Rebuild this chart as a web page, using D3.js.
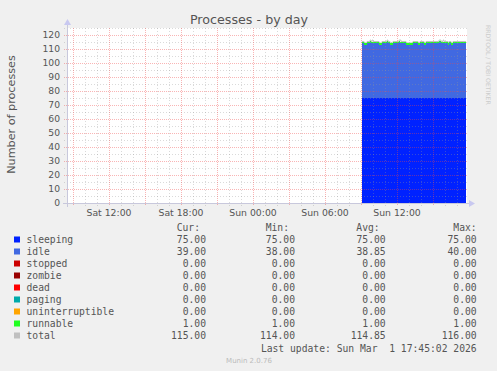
<!DOCTYPE html>
<html>
<head>
<meta charset="utf-8">
<script src="https://cdn.jsdelivr.net/npm/d3@7"></script>
<style>
body { margin: 0; background: #f0f0f0; }
svg { display: block; }
</style>
</head>
<body>
<script>
// window shown by the graph and the first 5 minute sample
var startTime = new Date(2026, 1, 28, 8, 30)
var endTime = new Date(2026, 2, 1, 17, 50)
var firstSample = new Date(2026, 2, 1, 9, 10)
var stepSec = 300

var sleeping = [
    75,75,75,75,75,75,75,75,75,75, 75,75,75,75,75,75,75,75,75,75,
    75,75,75,75,75,75,75,75,75,75, 75,75,75,75,75,75,75,75,75,75,
    75,75,75,75,75,75,75,75,75,75, 75,75,75,75,75,75,75,75,75,75,
    75,75,75,75,75,75,75,75,75,75, 75,75,75,75,75,75,75,75,75,75,
    75,75,75,75,75,75,75,75,75,75, 75,75,75,75,75,75,75,75,75,75,
    75,75,75,75]
var idle = [
    39,39,38,38,38,39,39,39,40,39, 39,39,39,39,39,39,39,38,38,38,
    39,39,39,39,39,40,39,39,38,38, 38,39,39,39,39,39,39,40,39,39,
    39,39,39,39,38,38,38,38,38,38, 38,39,39,39,39,39,38,38,39,39,
    39,39,38,38,39,39,39,39,39,39, 39,39,39,39,39,39,39,40,40,39,
    39,39,39,39,39,39,38,39,39,38, 38,39,39,39,39,39,39,39,39,39,
    39,39,39,39]
var runnable = [
    1,1,1,1,1,1,1,1,1,1, 1,1,1,1,1,1,1,1,1,1,
    1,1,1,1,1,1,1,1,1,1, 1,1,1,1,1,1,1,1,1,1,
    1,1,1,1,1,1,1,1,1,1, 1,1,1,1,1,1,1,1,1,1,
    1,1,1,1,1,1,1,1,1,1, 1,1,1,1,1,1,1,1,1,1,
    1,1,1,1,1,1,1,1,1,1, 1,1,1,1,1,1,1,1,1,1,
    1,1,1,1]
var total = [
    115,115,114,114,114,115,115,115,116,115, 116,115,115,115,115,115,115,114,114,114,
    115,115,115,115,115,116,115,115,114,114, 114,115,115,115,115,115,115,116,116,115,
    115,115,115,115,114,114,114,114,114,114, 114,115,115,115,115,115,114,114,115,115,
    115,115,114,114,115,115,115,115,115,115, 115,115,115,115,115,115,115,116,116,115,
    115,116,115,115,115,115,114,115,115,114, 114,115,115,115,115,115,115,115,115,115,
    115,115,115,115]

var yTicks = [0, 10, 20, 30, 40, 50, 60, 70, 80, 90, 100, 110, 120]

// legend table
var seriesNames = ["sleeping", "idle", "stopped", "zombie", "dead", "paging", "uninterruptible", "runnable", "total"]
var seriesColors = ["#0022ff", "#4169e1", "#cc0000", "#990000", "#ff0000", "#00aaaa", "#ffa500", "#22ff22", "#c0c0c0"]
var curVals = [75, 39, 0, 0, 0, 0, 0, 1, 115]
var minVals = [75, 38, 0, 0, 0, 0, 0, 1, 114]
var avgVals = [75, 38.85, 0, 0, 0, 0, 0, 1, 114.85]
var maxVals = [75, 40, 0, 0, 0, 0, 0, 1, 116]

var W = 497, H = 371
var plot = { left: 67, right: 467, top: 28, bottom: 203 }

var d = d3.select('body').append('svg')
    .attr('width', W)
    .attr('height', H)

d.append('rect').attr('width', W).attr('height', H).attr('fill', '#f0f0f0')
d.append('rect')
    .attr('x', plot.left).attr('y', plot.top)
    .attr('width', plot.right - plot.left).attr('height', plot.bottom - plot.top)
    .attr('fill', '#ffffff')

var x = d3.scaleTime().domain([startTime, endTime]).range([plot.left, plot.right])
var y = d3.scaleLinear().domain([0, 125]).range([plot.bottom, plot.top])

var rows = sleeping.map(function (v, i) {
    return {
        t: new Date(+firstSample + i * stepSec * 1000),
        sleeping: v,
        idle: idle[i],
        runnable: runnable[i],
        total: total[i]
    }
})

// total line first, the stack covers it where they agree
var totalPts = rows.map(function (r) { return [new Date(+r.t - stepSec * 1000), r.total] })
totalPts.push([rows[rows.length - 1].t, rows[rows.length - 1].total])
d.append('path')
    .attr('d', d3.line()
        .x(function (p) { return x(p[0]) })
        .y(function (p) { return y(p[1]) - 0.5 })
        .curve(d3.curveStepAfter)(totalPts))
    .attr('fill', 'none')
    .attr('stroke', seriesColors[8])
    .attr('stroke-width', 1)

var keys = ["sleeping", "idle", "runnable"]
var keyColors = [seriesColors[0], seriesColors[1], seriesColors[7]]
var stacked = d3.stack().keys(keys)(rows)

d.append('g').selectAll('g')
    .data(stacked)
    .join('g')
    .attr('fill', function (s, i) { return keyColors[i] })
    .attr('shape-rendering', 'crispEdges')
    .selectAll('rect')
    .data(function (s) { return s })
    .join('rect')
    .attr('x', function (p) { return x(new Date(+p.data.t - stepSec * 1000)) })
    .attr('width', function (p) { return x(p.data.t) - x(new Date(+p.data.t - stepSec * 1000)) })
    .attr('y', function (p) { return y(p[1]) })
    .attr('height', function (p) { return y(p[0]) - y(p[1]) })

// grid on top of the data, like rrdtool
var majorCol = 'rgba(240,70,70,0.4)'
var minorCol = 'rgba(150,150,150,0.35)'
var grid = d.append('g').attr('shape-rendering', 'crispEdges')
var minorY = d3.range(0, 126, 5)
grid.selectAll('line.hy')
    .data(minorY)
    .join('line')
    .attr('x1', plot.left - 3).attr('x2', plot.right)
    .attr('y1', function (v) { return Math.round(y(v)) + 0.5 })
    .attr('y2', function (v) { return Math.round(y(v)) + 0.5 })
    .attr('stroke', function (v) { return v % 10 === 0 ? majorCol : minorCol })
    .attr('stroke-dasharray', function (v) { return v % 10 === 0 ? '1,1' : '1,2' })

var hours = d3.timeHour.range(startTime, endTime).filter(function (t) { return x(t) > plot.left + 1 })
grid.selectAll('line.vx')
    .data(hours)
    .join('line')
    .attr('x1', function (t) { return Math.round(x(t)) + 0.5 })
    .attr('x2', function (t) { return Math.round(x(t)) + 0.5 })
    .attr('y1', plot.top).attr('y2', plot.bottom + 3)
    .attr('stroke', function (t) { return t.getHours() % 3 === 0 ? majorCol : minorCol })
    .attr('stroke-dasharray', function (t) { return t.getHours() % 3 === 0 ? '1,1' : '1,2' })

// axes
var axisColor = '#c8c8dc'
d.append('line')
    .attr('x1', plot.left - 4).attr('x2', plot.right + 2)
    .attr('y1', plot.bottom + 0.5).attr('y2', plot.bottom + 0.5)
    .attr('stroke', axisColor)
d.append('line')
    .attr('x1', plot.left + 0.5).attr('x2', plot.left + 0.5)
    .attr('y1', plot.bottom + 4).attr('y2', plot.top - 4)
    .attr('stroke', axisColor)
d.append('path')
    .attr('d', `M${plot.left + 0.5},${plot.top - 9} L${plot.left - 3},${plot.top - 3} L${plot.left + 4},${plot.top - 3} Z`)
    .attr('fill', '#c8c8f0')
d.append('path')
    .attr('d', `M${plot.right + 8},${plot.bottom + 0.5} L${plot.right + 2},${plot.bottom - 3} L${plot.right + 2},${plot.bottom + 4} Z`)
    .attr('fill', '#c8c8f0')

var sans = 'DejaVu Sans, sans-serif'
var mono = 'DejaVu Sans Mono, monospace'

d.append('g').selectAll('text')
    .data(yTicks)
    .join('text')
    .attr('x', 60)
    .attr('y', function (v) { return y(v) + 3.3 })
    .attr('text-anchor', 'end')
    .attr('font-family', sans)
    .attr('font-size', '9.2px')
    .attr('fill', '#555')
    .text(function (v) { return v })

var fmt = d3.timeFormat('%a %H:%M')
d.append('g').selectAll('text')
    .data(hours.filter(function (t) { return t.getHours() % 6 === 0 }))
    .join('text')
    .attr('x', function (t) { return x(t) })
    .attr('y', 216)
    .attr('text-anchor', 'middle')
    .attr('font-family', sans)
    .attr('font-size', '9.3px')
    .attr('fill', '#555')
    .text(fmt)

d.append('text')
    .attr('x', 249).attr('y', 24)
    .attr('text-anchor', 'middle')
    .attr('font-family', sans)
    .attr('font-size', '12.7px')
    .attr('fill', '#555')
    .text('Processes - by day')

d.append('text')
    .attr('transform', 'translate(15,114.5) rotate(-90)')
    .attr('text-anchor', 'middle')
    .attr('font-family', sans)
    .attr('font-size', '11.2px')
    .attr('fill', '#555')
    .text('Number of processes')

d.append('text')
    .attr('transform', 'translate(486,25) rotate(90)')
    .attr('font-family', sans)
    .attr('font-size', '6.2px')
    .attr('fill', '#cccccc')
    .text('RRDTOOL / TOBI OETIKER')

// legend
var leg = d.append('g')
    .attr('font-family', mono)
    .attr('font-size', '9.7px')
    .attr('fill', '#555')

var cols = [
    { head: 'Cur:', vals: curVals, right: 206 },
    { head: 'Min:', vals: minVals, right: 295 },
    { head: 'Avg:', vals: avgVals, right: 385.7 },
    { head: 'Max:', vals: maxVals, right: 476.7 }
]
cols.forEach(function (c, ci) {
    leg.append('text')
        .attr('x', ci === 3 ? c.right : c.right - 6)
        .attr('y', 230.5)
        .attr('text-anchor', 'end')
        .text(c.head)
})

seriesNames.forEach(function (name, i) {
    var yy = 243 + i * 12
    leg.append('rect')
        .attr('x', 14).attr('y', yy - 6.5)
        .attr('width', 6).attr('height', 6)
        .attr('fill', seriesColors[i])
    leg.append('text').attr('x', 26.5).attr('y', yy).text(name)
    cols.forEach(function (c) {
        leg.append('text')
            .attr('x', c.right).attr('y', yy)
            .attr('text-anchor', 'end')
            .text(d3.format('.2f')(c.vals[i]))
    })
})

leg.append('text')
    .attr('x', 476.7).attr('y', 351.5)
    .attr('text-anchor', 'end')
    .attr('xml:space', 'preserve')
    .style('white-space', 'pre')
    .text('Last update: Sun Mar  1 17:45:02 2026')

d.append('text')
    .attr('x', 249).attr('y', 362.5)
    .attr('text-anchor', 'middle')
    .attr('font-family', sans)
    .attr('font-size', '7px')
    .attr('fill', '#bbbbbb')
    .text('Munin 2.0.76')
</script>
</body>
</html>
